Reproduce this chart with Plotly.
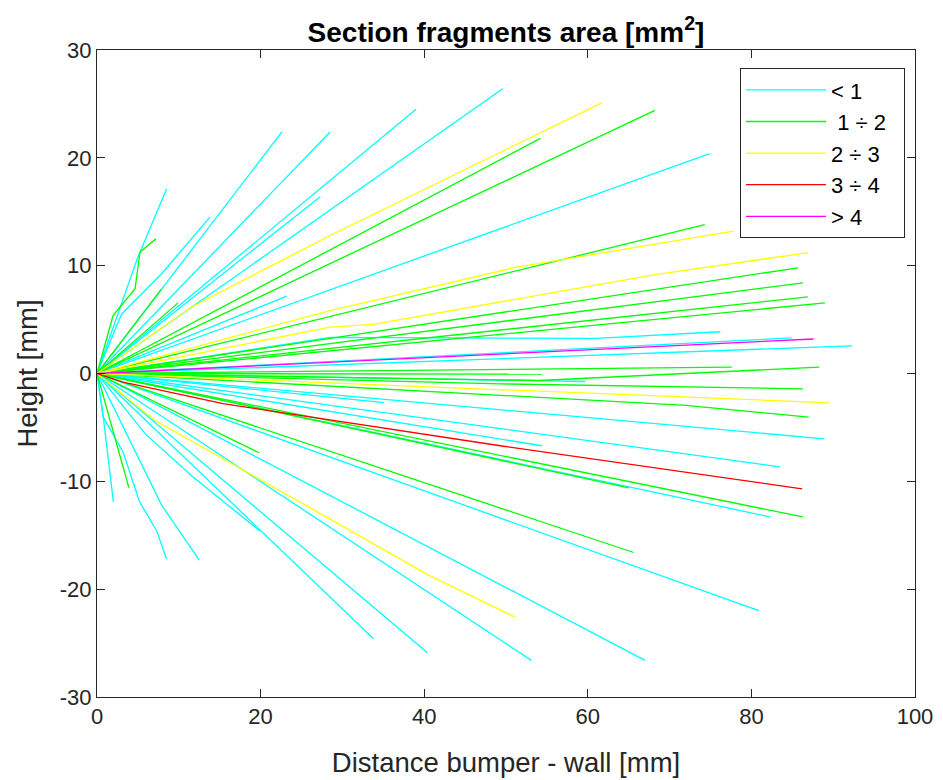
import plotly.graph_objects as go

# ---- data: fragments (polylines from the origin), grouped by area class ----
categories = ["< 1", " 1 \u00f7 2\u00a0\u00a0", "2 \u00f7 3", "3 \u00f7 4", "> 4"]
colors = ["#00FFFF", "#00FF00", "#FFFF00", "#FF0000", "#FF00FF"]

lt1_x = [[0, 4.9, 8.5], [0, 3.0, 7.9, 13.8], [0, 22.6], [0, 28.5], [0, 27.3],
         [0, 39.0], [0, 49.6], [0, 74.9], [0, 23.2], [0, 28.5, 61.0, 76.2],
         [0, 84.9], [0, 92.3], [0, 59.7], [0, 35.1], [0, 88.9], [0, 83.5],
         [0, 54.4], [0, 82.3], [0, 80.9], [0, 67.0], [0, 53.1], [0, 40.4],
         [0, 33.8], [0, 5.9, 11.6, 19.9], [0, 7.9, 12.5],
         [0, 0.77, 3.2, 5.2, 7.3, 8.5], [0, 0.77, 2.0]]
lt1_y = [[0, 10.6, 17.1], [0, 5.5, 9.25, 14.5], [0, 22.4], [0, 22.4], [0, 16.4],
         [0, 24.5], [0, 26.4], [0, 20.4], [0, 7.17], [0, 3.35, 3.25, 3.87],
         [0, 3.3], [0, 2.57], [0, -0.74], [0, -2.7], [0, -6.06], [0, -8.65],
         [0, -6.7], [0, -13.3], [0, -22.0], [0, -26.6], [0, -26.6], [0, -25.9],
         [0, -24.6], [0, -5.6, -9.5, -14.6], [0, -12.2, -17.3],
         [0, -4.05, -7.3, -11.9, -14.6, -17.2], [0, -4.05, -11.9]]

g12_x = [[0, 1.96, 4.65, 5.26, 7.2], [0, 7.9], [0, 9.9], [0, 54.2], [0, 68.2],
         [0, 74.3], [0, 85.7], [0, 86.3], [0, 86.9], [0, 89.0], [0, 77.6],
         [0, 54.0, 88.3], [0, 54.4], [0, 49.3, 86.3], [0, 72.0, 87.0],
         [0, 3.9], [0, 19.8], [0, 65.0], [0, 86.3], [0, 65.6]]
g12_y = [[0, 5.38, 7.86, 11.25, 12.5], [0, 7.85], [0, 6.55], [0, 21.8], [0, 24.4],
         [0, 13.8], [0, 9.8], [0, 8.4], [0, 7.1], [0, 6.55], [0, 0.59],
         [0, -0.65, 0.59], [0, -0.06], [0, -0.96, -1.42], [0, -2.95, -4.05],
         [0, -10.6], [0, -7.35], [0, -10.6], [0, -13.3], [0, -16.6]]

g23_x = [[0, 11.4, 28.5, 61.7], [0, 28.5, 51.3, 77.8],
         [0, 28.5, 33.8, 68.4, 86.9], [0, 89.5],
         [0, 7.1, 28.5, 40.3, 51.1]]
g23_y = [[0, 6.1, 12.8, 25.1], [0, 5.84, 9.86, 13.2],
         [0, 4.3, 4.55, 9.2, 11.2], [0, -2.72],
         [0, -4.36, -13.5, -18.6, -22.6]]

g34_x = [[0, 3.2, 15.4, 49.3, 86.2]]
g34_y = [[0, -0.8, -2.8, -6.7, -10.7]]

gt4_x = [[0, 87.6]]
gt4_y = [[0, 3.2]]

x_ticks = [0, 20, 40, 60, 80, 100]
x_tick_text = ["0", "20", "40", "60", "80", "100"]
y_ticks = [-30, -20, -10, 0, 10, 20, 30]
y_tick_text = ["-30", "-20", "-10", "0", "10", "20", "30"]

groups = [(lt1_x, lt1_y), (g12_x, g12_y), (g23_x, g23_y), (g34_x, g34_y), (gt4_x, gt4_y)]


def flatten(frags):
    out = []
    for f in frags:
        out.extend(f)
        out.append(None)
    return out


fig = go.Figure()
for name, col, (fx, fy) in zip(categories, colors, groups):
    fig.add_trace(go.Scatter(
        x=flatten(fx), y=flatten(fy), mode="lines", name=name,
        line=dict(color=col, width=1.3), connectgaps=False,
        legendgroup=name,
    ))

axis_common = dict(
    showline=True, linecolor="#262626", linewidth=1, mirror="ticks",
    ticks="inside", ticklen=8, tickcolor="#262626", showgrid=False,
    zeroline=False, tickfont=dict(size=22, color="#262626"), automargin=False,
)

# the page body adds an 8 px offset, so margins are shifted to compensate
fig.update_layout(
    width=943, height=780,
    margin=dict(l=89, r=36, t=42, b=91),
    paper_bgcolor="white", plot_bgcolor="white",
    font=dict(family="Liberation Sans, Arial, sans-serif", color="#262626"),
    title=dict(text="<b>Section fragments area [mm<sup>2</sup>]</b>",
               x=0.5, xref="paper", y=1 - 24 / 780, yref="container",
               yanchor="middle", font=dict(size=28, color="#000000")),
    xaxis=dict(range=[0, 100], tickvals=x_ticks, ticktext=x_tick_text,
               title=dict(text="Distance bumper - wall [mm]", font=dict(size=27.5), standoff=24),
               **axis_common),
    yaxis=dict(range=[-30, 30], tickvals=y_ticks, ticktext=y_tick_text,
               title=dict(text="Height [mm]", font=dict(size=27.5), standoff=14),
               **axis_common),
    legend=dict(x=0.9878, y=0.972, xanchor="right", yanchor="top",
                bgcolor="white", bordercolor="#262626", borderwidth=1,
                font=dict(size=22, color="#000000"), traceorder="grouped",
                tracegroupgap=0, itemwidth=80),
    showlegend=True,
)

fig.write_html("out.html")
